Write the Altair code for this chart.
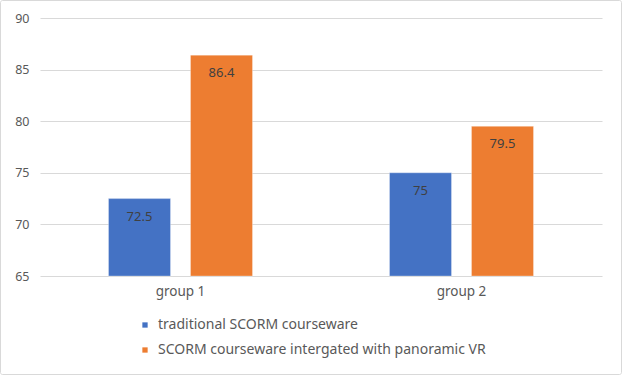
import altair as alt
import pandas as pd

groups = ["group 1", "group 1", "group 2", "group 2"]
series = ["traditional SCORM courseware", "SCORM courseware intergated with panoramic VR",
          "traditional SCORM courseware", "SCORM courseware intergated with panoramic VR"]
values = [72.5, 86.4, 75, 79.5]
series_order = ["traditional SCORM courseware", "SCORM courseware intergated with panoramic VR"]
colors = ["#4472C4", "#ED7D31"]
y_ticks = [65, 70, 75, 80, 85, 90]
y_min, y_max = 65, 90

df = pd.DataFrame({"group": groups, "series": series, "value": values})

FONT = "Noto Sans"

base = alt.Chart(df).encode(
    x=alt.X("group:N", title=None,
            scale=alt.Scale(paddingInner=0, paddingOuter=0),
            axis=alt.Axis(labelAngle=0, labelFontSize=13.5, labelColor="#595959",
                          ticks=False, domain=False, grid=False, labelPadding=8,
                          labelFont=FONT)),
    xOffset=alt.XOffset("series:N", sort=series_order,
                        scale=alt.Scale(paddingInner=0.2439, paddingOuter=0.8354)),
    y=alt.Y("value:Q", title=None,
            scale=alt.Scale(domain=[y_min, y_max], nice=False, zero=False),
            axis=alt.Axis(values=y_ticks, labelFontSize=12.5, labelColor="#595959",
                          ticks=False, domain=False, gridColor="#d9d9d9",
                          labelPadding=11, labelFont=FONT)),
)

bars = base.mark_bar(stroke="white", strokeWidth=0.5, strokeOpacity=0.6).encode(
    y2=alt.datum(y_min),
    color=alt.Color("series:N", sort=series_order,
                    scale=alt.Scale(domain=series_order, range=colors),
                    legend=alt.Legend(title=None, orient="none", legendX=98, legendY=300,
                                      direction="vertical", symbolType="square",
                                      symbolSize=28, symbolStrokeWidth=0,
                                      labelFontSize=14, labelColor="#595959",
                                      labelFont=FONT, rowPadding=11, labelOffset=6,
                                      labelLimit=0)),
)

labels = base.mark_text(baseline="middle", dy=18, fontSize=13, color="#404040", font=FONT).encode(
    text=alt.Text("value:Q")
)

border = alt.Chart(pd.DataFrame({"a": [0]})).mark_rect(
    fill=None, stroke="#d9d9d9", strokeWidth=1, cornerRadius=2
).encode(x=alt.value(-39.5), x2=alt.value(581.5), y=alt.value(-17.5), y2=alt.value(356.5))

chart = alt.layer(border, bars, labels).properties(
    width=562, height=258,
    background="white",
    autosize=alt.AutoSizeParams(type="none"),
    padding={"left": 40, "top": 18, "right": 20, "bottom": 99},
).configure_view(stroke=None)

chart.save("out.html", embed_options={"renderer": "svg", "actions": False})
